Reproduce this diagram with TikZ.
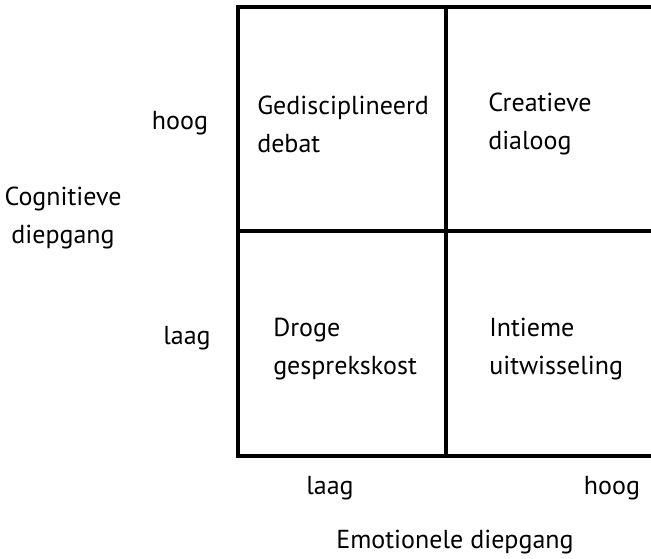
\documentclass[tikz,border=0pt]{standalone}
\usepackage{fontspec}
\setmainfont{PT Sans}
\usepackage{tikz}

\tikzset{
  label/.style={inner sep=0pt, font=\fontsize{18.5}{27}\selectfont, align=left},
  cell/.style={label, anchor=west},
  grid/.style={line width=2.2pt}
}

\begin{document}
\begin{tikzpicture}
\useasboundingbox (0,0) rectangle (16.275,13.975);

% Draw the four quadrants
\draw[grid] (16.275,13.8) -- (5.95,13.8) -- (5.95,2.575) -- (16.275,2.575);
\draw[grid] (11.15,13.8) -- (11.15,2.575);
\draw[grid] (5.95,8.2) -- (16.275,8.2);

% Quadrant texts
\node[cell] (debat) at (6.425,10.875) {Gedisciplineerd\\debat};
\node[cell] (dialoog) at (12.2,10.875) {Creatieve\\dialoog};
\node[cell] (kost) at (6.825,5.25) {Droge\\gesprekskost};
\node[cell] (uitwisseling) at (12.225,5.25) {Intieme\\uitwisseling};

% Vertical axis
\node[label] (yhoog) at (4.5,10.9) {hoog};
\node[label] (ylaag) at (4.675,5.525) {laag};
\node[label, align=center] (ytitel) at (1.575,8.525) {Cognitieve\\diepgang};

% Horizontal axis
\node[label] (xlaag) at (8.25,1.775) {laag};
\node[label] (xhoog) at (15.3,1.775) {hoog};
\node[label] (xtitel) at (11.375,0.425) {Emotionele diepgang};
\end{tikzpicture}
\end{document}
